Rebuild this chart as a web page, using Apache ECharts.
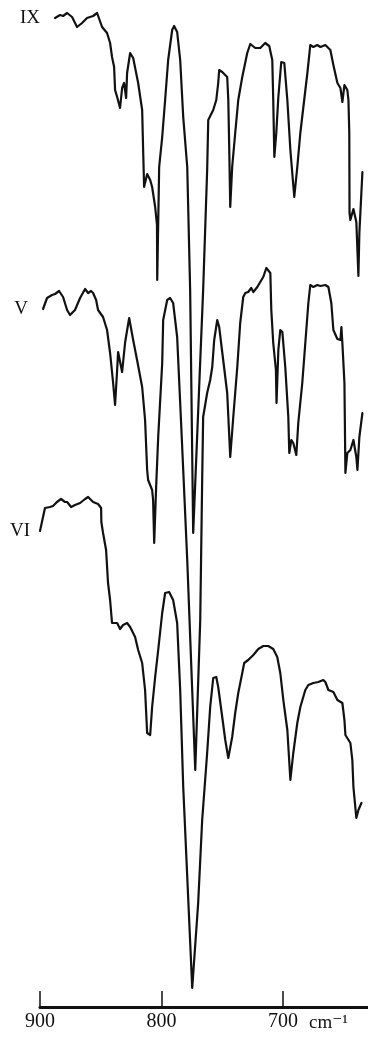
<!DOCTYPE html>
<html>
<head>
<meta charset="utf-8">
<script src="https://cdn.jsdelivr.net/npm/echarts@6/dist/echarts.min.js"></script>
<style>
html,body{margin:0;padding:0;background:#fff;}
#chart{width:368px;height:1037px;}
</style>
</head>
<body>
<div id="chart"></div>
<script>
// IR spectra, wavenumber (cm-1) vs. relative transmittance (arbitrary units, traces stacked)
const seriesNames = ['IX', 'V', 'VI'];
const tickValues = [900, 800, 700];
const tickLabels = ['900', '800', '700'];
const unitLabel = 'cm⁻¹';

const wnIX = [887.6,883.5,881.0,877.7,873.6,869.5,865.4,861.3,856.3,853.0,848.9,844.8,842.3,840.7,839.0,838.2,836.5,834.1,832.4,830.8,829.1,828.3,825.8,823.3,819.2,815.9,815.1,814.3,811.8,809.3,807.7,805.2,803.7,803.5,801.9,799.4,797.0,794.5,791.2,789.6,787.1,784.6,782.1,778.8,776.4,773.9,765.7,762.4,761.5,757.4,754.9,753.3,752.5,750.0,745.9,745.0,744.2,743.4,741.8,739.3,736.8,733.5,729.4,726.9,722.8,718.7,714.6,711.3,708.8,708.0,707.1,705.5,703.8,701.4,698.9,696.4,693.9,690.7,688.2,685.7,683.2,679.9,677.5,675.0,671.7,669.2,665.1,661.0,658.5,655.2,652.7,651.1,649.4,647.0,646.1,645.4,645.2,644.5,642.0,639.6,637.9,637.1,634.6];
const trIX = [989,992,991,994,990,980,984,989,991,994,980,974,964,950,940,917,910,899,919,924,909,934,954,949,924,897,857,820,833,827,820,800,782,727,840,870,907,947,977,981,975,947,890,840,717,474,717,837,887,897,907,924,937,935,930,907,857,800,840,874,907,930,954,963,959,959,964,961,947,907,850,874,910,945,944,907,857,810,840,874,900,934,962,960,962,960,962,957,942,924,919,905,922,917,907,874,794,787,798,785,731,774,835];

const wnV = [897.5,894.2,890.1,887.6,884.3,881.0,877.7,875.3,871.2,867.0,862.9,860.4,858.0,856.3,853.8,852.2,848.1,844.8,842.3,839.8,838.2,836.5,835.7,834.1,832.4,829.9,826.6,823.3,820.1,815.9,813.5,811.8,811.0,807.7,806.9,806.0,804.4,802.7,799.4,798.6,795.3,792.9,790.4,787.1,784.6,782.1,778.8,772.2,768.1,766.5,765.7,762.4,759.9,758.2,756.6,754.1,752.5,749.2,745.9,743.4,740.9,737.6,735.2,732.7,731.0,728.6,726.1,724.4,721.1,718.7,716.2,713.7,712.1,710.4,709.6,708.0,705.8,705.3,703.8,702.2,700.5,698.1,695.6,694.8,693.1,691.5,689.0,687.4,684.1,681.6,679.1,677.5,675.0,671.7,669.2,665.1,662.6,660.2,658.5,655.2,652.7,651.9,651.1,649.4,648.6,647.0,644.5,642.0,639.6,638.7,637.1,634.6];
const trV = [698,709,712,713,716,710,697,692,697,709,718,714,716,714,707,697,690,677,654,624,602,637,655,655,635,665,689,667,647,620,587,537,527,517,507,464,520,570,644,687,707,709,704,670,604,537,447,237,387,527,590,614,627,640,667,687,680,647,614,550,590,640,684,710,714,715,719,715,720,725,730,739,741,734,697,664,637,604,657,677,675,640,590,554,567,564,552,584,624,664,704,722,720,722,721,722,720,704,677,668,667,680,664,624,534,554,557,567,550,537,570,594];

const wnVI = [900.0,898.4,895.9,891.8,889.3,886.0,882.7,879.4,877.7,874.4,871.2,867.0,862.9,860.4,856.3,852.2,849.7,849.5,848.1,845.6,844.0,842.3,840.7,839.8,836.5,834.1,831.6,828.3,825.8,821.7,819.2,815.9,813.5,811.8,809.3,807.7,805.2,802.7,799.4,797.0,793.7,790.4,787.1,784.6,782.1,774.7,769.8,766.5,762.4,759.9,757.4,754.9,753.3,750.0,747.5,745.0,741.8,739.3,736.8,733.5,731.9,728.6,724.4,720.3,716.2,712.1,708.0,704.7,702.2,699.7,696.4,693.9,691.5,688.2,685.7,681.6,679.1,675.0,670.9,666.8,665.1,662.6,658.5,655.2,651.1,649.4,648.6,644.5,642.9,642.0,639.6,637.9,635.4];
const trVI = [476,485,499,500,501,505,508,505,505,500,502,504,508,510,505,503,499,485,474,457,424,407,384,382,384,378,382,384,380,370,357,344,317,274,272,300,330,357,394,414,415,407,384,317,220,19,104,187,254,300,329,330,320,290,267,249,270,294,314,334,344,347,352,358,361,361,358,350,334,307,277,227,254,284,300,317,322,324,325,327,325,317,315,307,304,287,272,264,247,220,189,197,204];

const spectra = [[wnIX, trIX], [wnV, trV], [wnVI, trVI]];
const ink = '#111111';
const serif = '"Liberation Serif", "DejaVu Serif", serif';

const chart = echarts.init(document.getElementById('chart'), null, {renderer: 'canvas'});

const series = spectra.map(([wn, tr], k) => ({
  name: seriesNames[k],
  type: 'line',
  data: wn.map((w, i) => [w, tr[i]]),
  showSymbol: false,
  clip: false,
  lineStyle: {color: ink, width: 2.2, join: 'round', cap: 'round'},
  emphasis: {disabled: true},
  markPoint: {
    symbol: 'circle',
    symbolSize: 0,
    silent: true,
    label: {
      show: true,
      position: 'left',
      distance: k === 2 ? 10 : 15,
      formatter: seriesNames[k],
      color: ink,
      fontFamily: serif,
      fontSize: 19
    },
    data: [{coord: [wn[0], tr[0]]}]
  }
}));

chart.setOption({
  animation: false,
  backgroundColor: '#fff',
  title: {
    text: unitLabel,
    left: 304,
    top: 1009,
    textStyle: {color: ink, fontFamily: serif, fontSize: 19, fontWeight: 'normal'}
  },
  grid: {left: 40, right: 0, top: 0, bottom: 30},
  xAxis: {
    type: 'value',
    inverse: true,
    min: 630,
    max: 900,
    axisLine: {lineStyle: {color: ink, width: 3}},
    axisTick: {
      customValues: tickValues,
      inside: true,
      length: 16,
      lineStyle: {color: ink, width: 1.5}
    },
    axisLabel: {
      customValues: tickValues,
      formatter: v => tickLabels[tickValues.indexOf(v)],
      color: ink,
      fontFamily: serif,
      fontSize: 20,
      margin: 5
    },
    splitLine: {show: false}
  },
  yAxis: {
    type: 'value',
    min: 0,
    max: 1007,
    show: false
  },
  series: series
});
</script>
</body>
</html>
